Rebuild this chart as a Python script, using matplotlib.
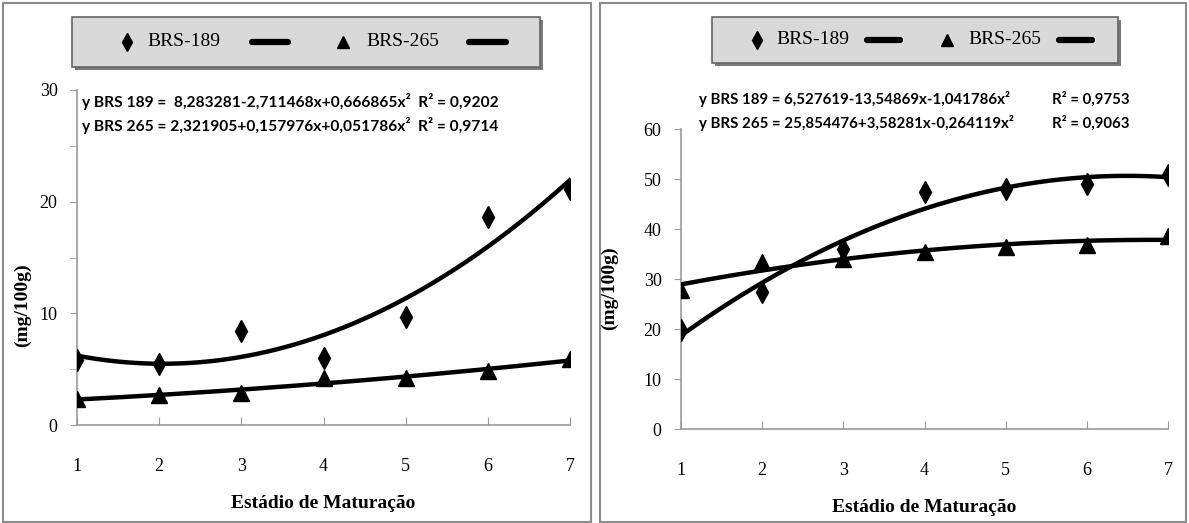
import numpy as np
import matplotlib
matplotlib.use("Agg")
import matplotlib.pyplot as plt
from matplotlib.lines import Line2D
from matplotlib.patches import Rectangle

# estadio de maturacao
stages = [1, 2, 3, 4, 5, 6, 7]

# left panel
left_189 = [5.8, 5.5, 8.4, 6.0, 9.7, 18.6, 21.1]
left_265 = [2.3, 2.7, 2.9, 4.2, 4.2, 4.8, 5.9]
left_eq = ["y BRS 189 =  8,283281-2,711468x+0,666865x²  R² = 0,9202",
           "y BRS 265 = 2,321905+0,157976x+0,051786x²  R² = 0,9714"]

# right panel
right_189 = [19.9, 27.4, 36.1, 47.5, 48.0, 49.0, 50.8]
right_265 = [27.8, 33.4, 34.1, 35.5, 36.5, 36.8, 38.6]
right_eq = ["y BRS 189 = 6,527619-13,54869x-1,041786x²",
            "y BRS 265 = 25,854476+3,58281x-0,264119x²"]
right_r2 = ["R² = 0,9753", "R² = 0,9063"]

series_names = ["BRS-189", "BRS-265"]

W, H = 1189, 523
serif = "Liberation Serif"
sans = "Lato"

fig = plt.figure(figsize=(W / 100, H / 100), dpi=100)
fig.patch.set_facecolor("white")

def fx(px):
    return px / W

def fy(py):
    return 1 - py / H

# panel borders
for x0, x1 in [(3, 591), (600, 1186)]:
    fig.patches.append(Rectangle((fx(x0), fy(522)), fx(x1 - x0), (522 - 3) / H,
                                 transform=fig.transFigure, fill=False,
                                 edgecolor="#8c8c8c", linewidth=1.5))

def panel(rect, ys1, ys2, ymax, minor):
    ax = fig.add_axes(rect)
    xs = np.linspace(1, 7, 200)
    for ys, mk, ms in [(ys1, "d", 11), (ys2, "^", 11)]:
        ax.plot(stages, ys, linestyle="none", marker=mk, markersize=ms,
                color="black", zorder=3)
        c = np.polyfit(stages, ys, 2)
        ax.plot(xs, np.polyval(c, xs), color="black", linewidth=3.2, zorder=2)
    ax.set_xlim(1, 7)
    ax.set_ylim(0, ymax)
    ax.set_xticks(stages)
    ax.set_yticks(np.arange(0, ymax + 1, 10))
    if minor:
        ax.set_yticks(np.arange(5, ymax, 10), minor=True)
    for s in ["top", "right"]:
        ax.spines[s].set_visible(False)
    for s in ["left", "bottom"]:
        ax.spines[s].set_color("#9a9a9a")
        ax.spines[s].set_linewidth(1.2)
    ax.tick_params(axis="x", direction="in", length=6, pad=24, color="#9a9a9a",
                   labelsize=13)
    ax.tick_params(axis="y", which="both", direction="out", length=5, pad=9,
                   color="#9a9a9a", labelsize=13)
    for lab in ax.get_xticklabels() + ax.get_yticklabels():
        lab.set_fontfamily(serif)
    ax.set_xlabel("Estádio de Maturação", fontfamily=serif, fontweight="bold",
                  fontsize=14, labelpad=14)
    return ax

axL = panel([fx(77), fy(425), fx(570 - 77), (425 - 90) / H],
            left_189, left_265, 30, True)
axR = panel([fx(681), fy(429), fx(1168 - 681), (429 - 129) / H],
            right_189, right_265, 60, False)

fig.text(fx(22), fy(305), "(mg/100g)", rotation=90, ha="center", va="center",
         fontfamily=serif, fontweight="bold", fontsize=14)
fig.text(fx(609), fy(288), "(mg/100g)", rotation=90, ha="center", va="center",
         fontfamily=serif, fontweight="bold", fontsize=14)

# equations
for i, line in enumerate(left_eq):
    fig.text(fx(82), fy(101 + 25 * i), line, ha="left", va="center",
             fontfamily=sans, fontweight="bold", fontsize=11.2)
for i, line in enumerate(right_eq):
    fig.text(fx(699), fy(99 + 24 * i), line, ha="left", va="center",
             fontfamily=sans, fontweight="bold", fontsize=10.8)
    fig.text(fx(1052), fy(99 + 24 * i), right_r2[i], ha="left", va="center",
             fontfamily=sans, fontweight="bold", fontsize=10.8)

# legend boxes (Excel style: marker entry + separate trend line entry)
def legend_box(x0, x1, y0, y1, ymid, diamond_x, text1_x, line1, tri_x, text2_x, line2):
    tr = fig.transFigure
    fig.patches.append(Rectangle((fx(x0 + 3), fy(y1 + 3)), fx(x1 - x0), (y1 - y0) / H,
                                 transform=tr, facecolor="#7a7a7a", edgecolor="none"))
    fig.patches.append(Rectangle((fx(x0), fy(y1)), fx(x1 - x0), (y1 - y0) / H,
                                 transform=tr, facecolor="#d9d9d9", edgecolor="#666666",
                                 linewidth=1.2))
    fig.add_artist(Line2D([fx(diamond_x)], [fy(ymid)], transform=tr, marker="d",
                          markersize=9, color="black", linestyle="none"))
    fig.add_artist(Line2D([fx(tri_x)], [fy(ymid)], transform=tr, marker="^",
                          markersize=8, color="black", linestyle="none"))
    for lx0, lx1 in [line1, line2]:
        fig.add_artist(Line2D([fx(lx0), fx(lx1)], [fy(ymid), fy(ymid)], transform=tr,
                              color="black", linewidth=4.5, solid_capstyle="round"))
    fig.text(fx(text1_x), fy(ymid), series_names[0], ha="left", va="center",
             fontfamily=serif, fontsize=14)
    fig.text(fx(text2_x), fy(ymid), series_names[1], ha="left", va="center",
             fontfamily=serif, fontsize=14)

legend_box(72, 540, 17, 67, 42, 127, 147, (252, 288), 343, 366, (469, 506))
legend_box(712, 1118, 17, 63, 40, 757, 776, (867, 900), 947, 968, (1059, 1092))

fig.savefig("out.png", dpi=100)
